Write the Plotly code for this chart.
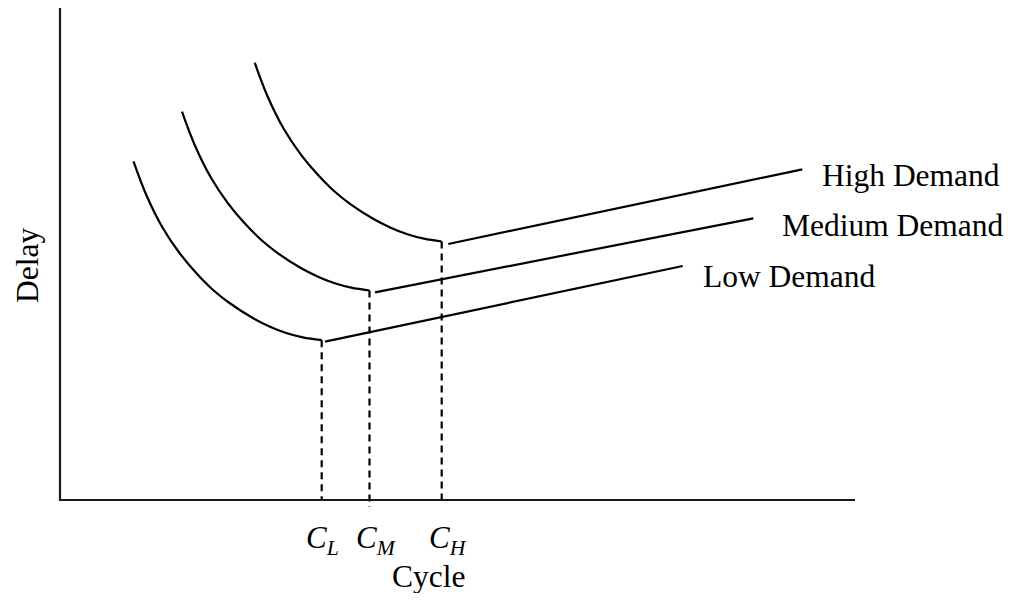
import plotly.graph_objects as go

INK = '#000000'
SERIF = 'Liberation Serif, Times New Roman, serif'

# delay curves, falling part (cycle, delay)
low_x  = [7.35, 8.62, 10.28, 11.95, 13.62, 15.28, 16.95, 19.28, 20.95, 22.62, 24.28, 26.17]
low_y  = [33.86, 30.53, 27.2, 24.7, 22.7, 21.03, 19.7, 18.2, 17.36, 16.7, 16.26, 15.98]
med_x  = [12.2, 13.47, 15.13, 16.8, 18.47, 20.13, 21.8, 24.13, 25.8, 27.47, 29.13, 30.95]
med_y  = [38.83, 35.5, 32.17, 29.67, 27.67, 26.0, 24.67, 23.17, 22.33, 21.67, 21.23, 20.95]
high_x = [19.47, 20.74, 22.4, 24.07, 25.74, 27.4, 29.07, 31.4, 33.07, 34.74, 36.4, 38.17]
high_y = [43.73, 40.4, 37.07, 34.57, 32.57, 30.9, 29.57, 28.07, 27.23, 26.57, 26.13, 25.85]

# straight branches past the optimum cycle
low_line_x  = [26.5, 62.27];  low_line_y  = [15.83, 23.4]
med_line_x  = [31.5, 69.33];  med_line_y  = [20.77, 28.17]
high_line_x = [38.83, 74.23]; high_line_y = [25.6, 33.07]

# optimum cycles C_L, C_M, C_H: guide line bottoms and label centres
opt_names   = ['L', 'M', 'H']
opt_bottom  = [0, -0.7, 0]
opt_label_x = [26.25, 31.67, 38.75]

series_names = ['Low Demand', 'Medium Demand', 'High Demand']
label_pos = [(64.13, 22.33), (71.97, 27.5), (75.97, 32.5)]

fig = go.Figure()

curves = [(low_x, low_y, low_line_x, low_line_y),
          (med_x, med_y, med_line_x, med_line_y),
          (high_x, high_y, high_line_x, high_line_y)]

for cx, cy, lx, ly in curves:
    fig.add_trace(go.Scatter(x=cx, y=cy, mode='lines', line=dict(color=INK, width=2.2, shape='spline'),
                             showlegend=False, hoverinfo='skip'))
    fig.add_trace(go.Scatter(x=lx, y=ly, mode='lines', line=dict(color=INK, width=2.2),
                             showlegend=False, hoverinfo='skip'))

for (cx, cy, _, _), bot in zip(curves, opt_bottom):
    fig.add_trace(go.Scatter(x=[cx[-1], cx[-1]], y=[cy[-1], bot], mode='lines',
                             line=dict(color=INK, width=2.2, dash='7px,5px'),
                             showlegend=False, hoverinfo='skip'))

# axes frame
fig.add_trace(go.Scatter(x=[0, 0, 79.5], y=[49.2, 0, 0], mode='lines',
                         line=dict(color='#1a1a1a', width=2.2), showlegend=False, hoverinfo='skip'))

ann = []
for name, (x, y) in zip(series_names, label_pos):
    ann.append(dict(x=x, y=y, text=name, showarrow=False, xanchor='left', yanchor='middle',
                    font=dict(size=31.5)))
for lx, n in zip(opt_label_x, opt_names):
    ann.append(dict(x=lx, y=-4.0, text=f'<i>C</i><sub><i>{n}</i></sub>', showarrow=False,
                    xanchor='center', yanchor='middle', font=dict(size=31)))
ann.append(dict(x=36.83, y=-7.65, text='Cycle', showarrow=False, xanchor='center', yanchor='middle',
                font=dict(size=31.5)))
ann.append(dict(x=-3.25, y=23.45, text='Delay', showarrow=False, textangle=-90,
                xanchor='center', yanchor='middle', font=dict(size=31.5)))

# page body adds an 8px margin, so the figure is sized to fill the rest of the window
fig.update_layout(
    width=998, height=585,
    margin=dict(l=0, r=0, t=0, b=0),
    plot_bgcolor='white', paper_bgcolor='white',
    font=dict(family=SERIF, color='black'),
    xaxis=dict(range=[-5.2, 94.6], visible=False, fixedrange=True),
    yaxis=dict(range=[-9.3, 49.2], visible=False, fixedrange=True),
    annotations=ann,
)

fig.write_html('out.html')
